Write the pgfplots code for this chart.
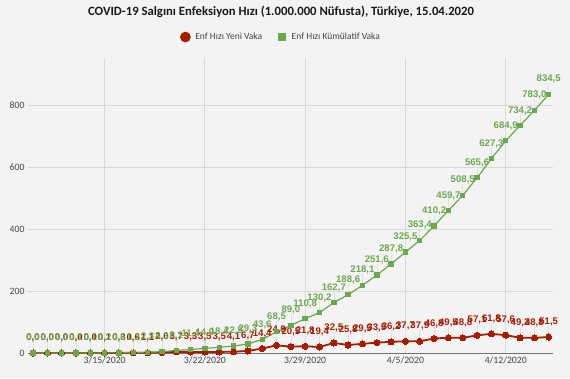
\documentclass[border=0pt]{standalone}
\usepackage{pgfplots}
\usepackage{pgfplotstable}
\pgfplotsset{compat=1.18}
\usepackage{fontspec}
\setmainfont{Carlito}
\newfontfamily\labfont{Liberation Sans}
\definecolor{bg}{HTML}{F3F3F3}
\definecolor{redc}{HTML}{A61C00}
\definecolor{greenc}{HTML}{6AA84F}
\definecolor{gridc}{HTML}{D9D9D9}
\definecolor{txt}{HTML}{444444}

\pgfplotstableread{
x new cum
0 0.0 0.0
1 0.0 0.0
2 0.0 0.0
3 0.0 0.1
4 0.0 0.1
5 0.1 0.2
6 0.3 0.6
7 0.6 1.2
8 1.1 2.3
9 2.0 4.3
10 3.7 8.1
11 3.3 11.4
12 3.5 14.9
13 3.5 18.4
14 4.1 22.5
15 6.7 29.3
16 14.4 43.6
17 24.9 68.5
18 20.5 89.0
19 21.8 110.8
20 19.4 130.2
21 32.5 162.7
22 25.8 188.6
23 29.5 218.1
24 33.5 251.6
25 36.2 287.8
26 37.7 325.5
27 37.9 363.4
28 46.8 410.2
29 49.5 459.7
30 48.8 508.5
31 57.1 565.6
32 61.8 627.3
33 57.6 684.9
34 49.2 734.2
35 48.8 783.0
36 51.5 834.5
}\data

\begin{document}
\begin{tikzpicture}
\path[use as bounding box, fill=bg] (0,0) rectangle (570pt,378pt);
\node[font=\bfseries\fontsize{12.7}{14}\selectfont, text=black!90] at (281pt,366pt)
  {COVID-19 Salgını Enfeksiyon Hızı (1.000.000 Nüfusta), Türkiye, 15.04.2020};
\begin{axis}[
  at={(28pt,25pt)}, anchor=south west, scale only axis,
  width=525pt, height=295pt,
  xmin=-0.35, xmax=36.3, ymin=0, ymax=952,
  axis line style={draw=none},
  xtick={5,12,19,26,33},
  xticklabels={3/15/2020,3/22/2020,3/29/2020,4/5/2020,4/12/2020},
  ytick={200,400,600,800},
  extra y ticks={0},
  extra y tick style={major grid style={draw=black!55, line width=0.9pt}},
  grid=major,
  major grid style={draw=gridc, line width=0.9pt},
  major tick length=0pt,
  tick style={draw=none},
  ticklabel style={font=\fontsize{9.7}{11}\selectfont, text=txt},
  /pgf/number format/assume math mode=true,
  clip=false,
  legend style={at={(0.482,1.071)}, anchor=center, draw=none, fill=none,
    font=\fontsize{9.5}{11}\selectfont, text=txt,
    legend columns=2,
    /tikz/every even column/.append style={column sep=14pt}},
  nodes near coords={\pgfmathprintnumber[fixed,fixed zerofill,precision=1,use comma]{\pgfplotspointmeta}},
  every node near coord/.append style={font=\labfont\bfseries\fontsize{9.6}{10}\selectfont,
    anchor=south, yshift=11pt, inner sep=0pt},
]
% leader lines
\addplot[only marks, mark=none, forget plot, nodes near coords={},
  error bars/.cd, y dir=plus, y fixed=36, error mark=none,
  error bar style={color=black!12, line width=0.6pt}]
  table[x=x, y=new] {\data};
\addplot[only marks, mark=none, forget plot, nodes near coords={},
  error bars/.cd, y dir=plus, y fixed=36, error mark=none,
  error bar style={color=black!12, line width=0.6pt}]
  table[x=x, y=cum] {\data};
% series
\addplot[redc, line width=1.8pt, mark=*, mark size=3.1pt,
  mark options={fill=redc, draw=redc, line width=0pt},
  every node near coord/.append style={text=redc},
  legend image code/.code={\fill[redc] (0,0) circle (4.4pt); \path (7pt,0);}]
  table[x=x, y=new] {\data};
\addlegendentry{Enf Hızı Yeni Vaka}
\addplot[greenc, line width=1.2pt, mark=square*, mark size=2.2pt,
  mark options={fill=greenc, draw=greenc, line width=0pt},
  every node near coord/.append style={text=greenc},
  legend image code/.code={\fill[greenc] (-3.3pt,-3.3pt) rectangle (3.3pt,3.3pt); \path (7pt,0);}]
  table[x=x, y=cum] {\data};
\addlegendentry{Enf Hızı Kümülatif Vaka}
\end{axis}
\end{tikzpicture}
\end{document}
